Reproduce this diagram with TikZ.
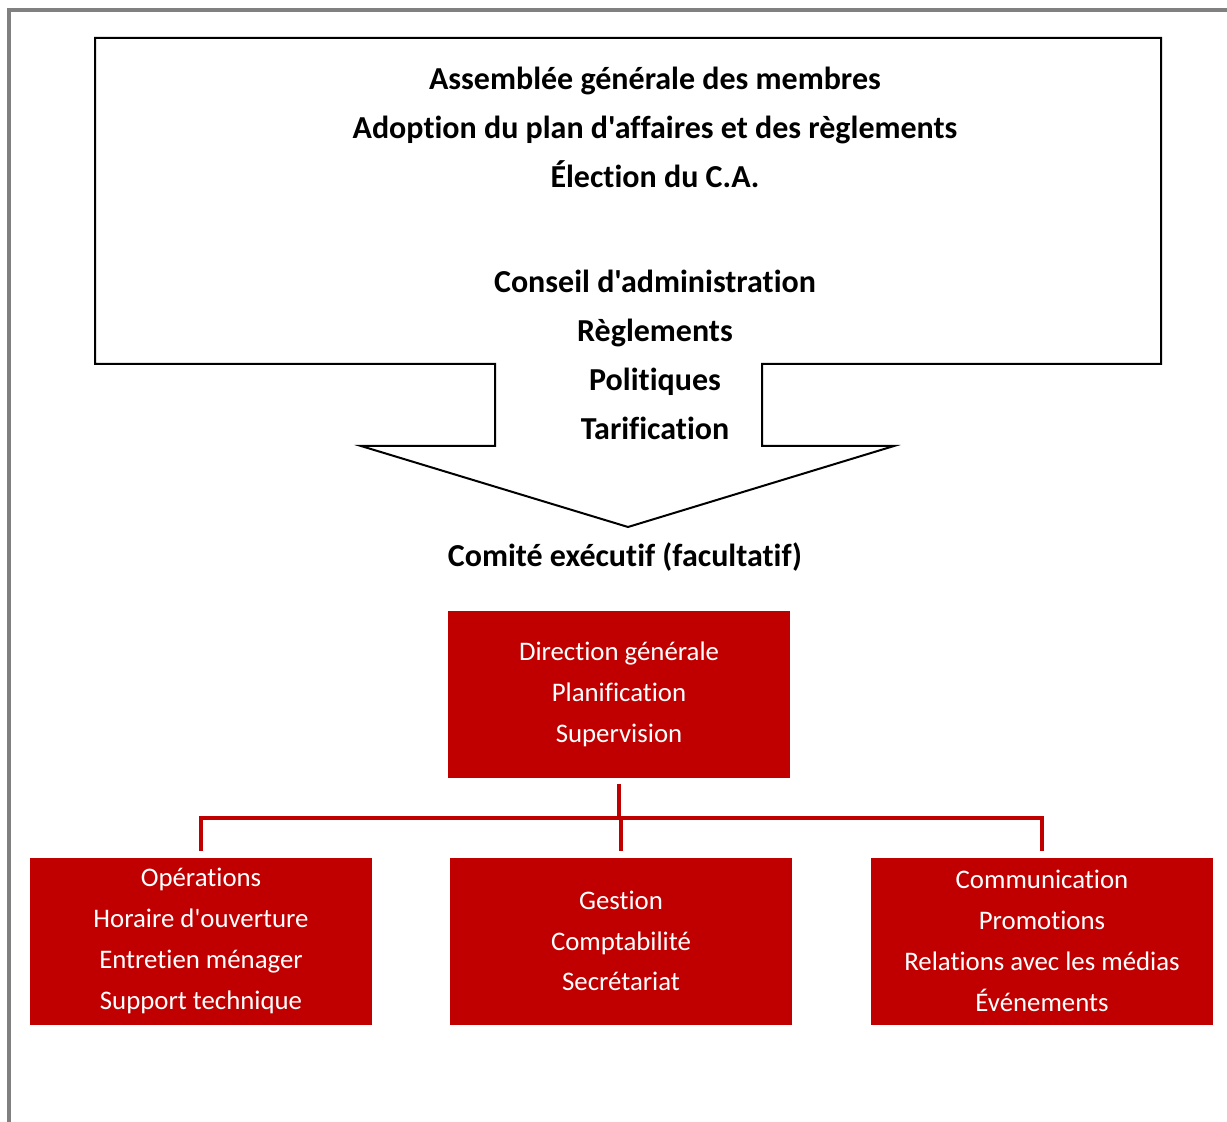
\documentclass[tikz,border=0pt]{standalone}
\usepackage{fontspec}
\setmainfont{Carlito}[Ligatures={TeXOff,NoCommon}]
\usetikzlibrary{calc}

\definecolor{rouge}{RGB}{192,0,0}
\definecolor{cadre}{RGB}{128,128,128}

\tikzset{
  boite/.style={fill=rouge, text=white, minimum width=171pt, minimum height=83.5pt,
    inner sep=0pt, align=center, font=\fontsize{13.4}{20.4}\selectfont},
  titre/.style={align=center, inner sep=0pt, font=\bfseries\fontsize{16}{24.5}\selectfont},
  lien/.style={rouge, line width=2pt},
}

\begin{document}
\begin{tikzpicture}[x=0.5pt,y=-0.5pt]

\useasboundingbox (0,0) rectangle (1227,1122);

% cadre gris
\draw[cadre, line width=2pt] (9,1122) -- (9,10) -- (1227,10);

% grande fleche
\coordinate (A) at (95,38);
\coordinate (B) at (1161,38);
\coordinate (C) at (1161,364);
\coordinate (D) at (762,364);
\coordinate (E) at (762,446);
\coordinate (F) at (894,446);
\coordinate (P) at (628,527);
\coordinate (G) at (361,446);
\coordinate (H) at (495,446);
\coordinate (I) at (495,364);
\coordinate (J) at (95,364);
\draw[black, line width=1pt] (A)--(B)--(C)--(D)--(E)--(F)--(P)--(G)--(H)--(I)--(J)--cycle;

\node[titre] (agm) at (655,127) {Assemblée générale des membres\\Adoption du plan d'affaires et des règlements\\Élection du C.A.};
\node[titre] (ca) at (655,355) {Conseil d'administration\\Règlements\\Politiques\\Tarification};
\node[titre] (comex) at (625,557) {Comité exécutif (facultatif)};

% organigramme
\node[boite] (dg) at (619,694.5) {Direction générale\\Planification\\Supervision};
\node[boite] (ops) at (201,941) {Opérations\\Horaire d'ouverture\\Entretien ménager\\Support technique};
\node[boite] (gest) at (621,941) {Gestion\\Comptabilité\\Secrétariat};
\node[boite] (comm) at (1042,941) {Communication\\Promotions\\Relations avec les médias\\Événements};

\coordinate (barre) at (619,818);
\draw[lien, shorten <=3pt] (dg.south) -- (dg.south |- barre);
\draw[lien, shorten <=3pt, shorten >=3pt] (ops.north) -- (ops.north |- barre) -- (comm.north |- barre) -- (comm.north);
\draw[lien, shorten >=3pt] (gest.north |- barre) -- (gest.north);

\end{tikzpicture}
\end{document}
